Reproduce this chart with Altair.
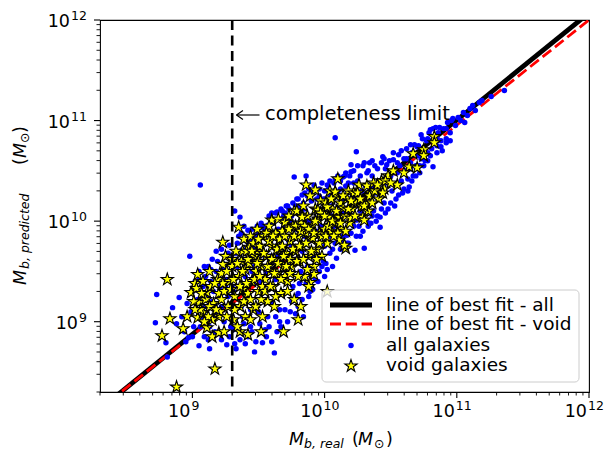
import altair as alt
import pandas as pd

# ---- data: (log10 M_real, log10 M_predicted) ----
all_galaxies_log = [
    (8.72, 8.99), (8.73, 9.27), (8.80, 8.79), (8.81, 8.65), (8.85, 9.14), (8.88, 8.98), (8.90, 9.24),
    (8.92, 9.05), (8.94, 8.90), (8.96, 9.18), (8.97, 8.84), (8.99, 9.10), (8.98, 9.65),
    (9.00, 9.30), (9.01, 8.95), (9.02, 9.40), (9.03, 9.12), (9.04, 9.22), (9.05, 8.76), (9.05, 9.50),
    (9.06, 10.36), (9.07, 9.05), (9.08, 9.35), (9.09, 8.85), (9.10, 9.45), (9.10, 9.15),
    (9.11, 9.25), (9.12, 9.55), (9.13, 8.73), (9.13, 8.95), (9.14, 9.40), (9.15, 9.62), (9.16, 9.30),
    (9.17, 9.05), (9.18, 9.70), (9.18, 9.50), (9.19, 8.88), (9.20, 9.10), (9.21, 9.35), (9.22, 9.72),
    (9.22, 9.15), (9.23, 9.58), (9.24, 9.00), (9.25, 9.66), (9.26, 8.77), (9.26, 9.42), (9.27, 9.25),
    (9.28, 9.76), (9.29, 8.95), (9.30, 9.60), (9.30, 9.35),
    (9.31, 9.30), (9.32, 10.10), (9.32, 8.78), (9.33, 8.73), (9.34, 9.55), (9.35, 9.85), (9.36, 10.04),
    (9.37, 9.15), (9.38, 9.72), (9.39, 8.98), (9.40, 9.45), (9.41, 9.80), (9.42, 9.91), (9.43, 9.25),
    (9.44, 9.62), (9.45, 8.90), (9.46, 9.80), (9.47, 8.70), (9.48, 9.40), (9.49, 9.95), (9.50, 9.10),
    (9.35, 9.35), (9.38, 9.05), (9.44, 9.12), (9.47, 9.55), (9.42, 8.85), (9.33, 9.68), (9.48, 9.85),
    (9.51, 9.70), (9.52, 9.98), (9.53, 8.79), (9.54, 9.30), (9.55, 9.92), (9.56, 9.50), (9.57, 9.05),
    (9.58, 10.05), (9.59, 9.65), (9.60, 9.20), (9.61, 9.88), (9.62, 8.69), (9.63, 9.42), (9.64, 10.09),
    (9.65, 9.75), (9.66, 9.00), (9.67, 10.12), (9.68, 9.58), (9.69, 9.30), (9.70, 9.95), (9.55, 8.92),
    (9.66, 9.12), (9.52, 9.40), (9.58, 9.78), (9.64, 8.90), (9.69, 10.05), (9.62, 9.60), (9.60, 10.08),
    (9.71, 9.45), (9.72, 10.15), (9.73, 9.80), (9.74, 9.10), (9.75, 10.05), (9.76, 9.60), (9.77, 10.44),
    (9.78, 9.25), (9.79, 9.92), (9.80, 10.22), (9.81, 9.38), (9.82, 10.10), (9.83, 9.70), (9.84, 9.05),
    (9.85, 10.28), (9.86, 10.45), (9.87, 9.55), (9.88, 10.00), (9.89, 9.30), (9.90, 10.20), (9.72, 9.95),
    (9.76, 9.35), (9.80, 9.15), (9.84, 10.18), (9.88, 9.80), (9.82, 9.50), (9.86, 9.95), (9.78, 10.15),
    (9.91, 9.65), (9.91, 9.32), (9.92, 10.30), (9.93, 9.85), (9.94, 10.10), (9.95, 9.40), (9.96, 10.25),
    (9.97, 9.95), (9.98, 9.55), (9.99, 10.22), (10.00, 9.75), (10.01, 10.05), (10.02, 9.52), (10.03, 10.32),
    (10.04, 9.85), (10.05, 10.15), (10.06, 9.55), (10.07, 9.95), (10.08, 10.83), (10.09, 9.63), (10.10, 10.28),
    (10.00, 9.45), (10.04, 10.26), (10.07, 10.38), (9.95, 10.02), (10.02, 9.90),
    (10.11, 10.00), (10.12, 10.40), (10.13, 9.80), (10.14, 10.20), (10.15, 9.90), (10.16, 10.35), (10.17, 9.86),
    (10.18, 10.10), (10.19, 10.45), (10.20, 10.49), (10.21, 10.25), (10.22, 9.95), (10.23, 9.71), (10.24, 10.01),
    (10.24, 10.69), (10.25, 10.40), (10.26, 10.15), (10.27, 9.85), (10.28, 10.30), (10.29, 10.55), (10.30, 9.73),
    (10.30, 10.05), (10.12, 10.15), (10.15, 10.45), (10.18, 9.78), (10.22, 10.38), (10.27, 10.10), (10.20, 10.56),
    (10.31, 10.35), (10.32, 10.00), (10.33, 10.50), (10.34, 10.20), (10.35, 9.98), (10.36, 10.45), (10.37, 10.10),
    (10.38, 10.55), (10.39, 10.28), (10.40, 10.05), (10.41, 10.40), (10.42, 9.94), (10.42, 10.04), (10.43, 10.58),
    (10.44, 10.30), (10.45, 10.18), (10.46, 10.52), (10.47, 10.38), (10.48, 10.12), (10.49, 10.60), (10.50, 10.45),
    (10.34, 10.58), (10.45, 10.62),
    (10.51, 10.30), (10.52, 10.61), (10.53, 10.48), (10.54, 10.22), (10.55, 10.36), (10.56, 10.66), (10.57, 10.55),
    (10.58, 10.40), (10.59, 10.28), (10.60, 10.62), (10.61, 10.50), (10.62, 10.72), (10.63, 10.42), (10.64, 10.34),
    (10.65, 10.58), (10.66, 10.68), (10.67, 10.45), (10.68, 10.76), (10.69, 10.55), (10.70, 10.65),
    (10.71, 10.75), (10.72, 10.55), (10.73, 10.62), (10.74, 10.82), (10.75, 10.70), (10.76, 10.60), (10.77, 10.80),
    (10.78, 10.68), (10.79, 10.88), (10.80, 10.91), (10.81, 10.72), (10.82, 10.54), (10.83, 10.82), (10.84, 10.93),
    (10.85, 10.75), (10.86, 10.88), (10.87, 10.93), (10.88, 10.80), (10.90, 10.92), (10.89, 10.70),
    (10.92, 10.78), (10.93, 10.98), (10.95, 10.88), (10.97, 11.02), (10.99, 10.95), (11.01, 11.03), (11.03, 11.00),
    (11.05, 11.08), (11.08, 11.05), (11.10, 11.12), (11.14, 11.10), (11.17, 11.18), (11.19, 11.20), (11.26, 11.24),
    (11.36, 11.30), (11.12, 11.15), (11.06, 10.98),
    # upper part of the band
    (9.05, 9.42), (9.09, 9.55), (9.14, 9.52), (9.19, 9.60), (9.24, 9.52), (9.27, 9.68), (9.34, 9.78),
    (9.37, 9.88), (9.39, 9.95), (9.43, 9.82), (9.45, 9.92), (9.47, 9.72), (9.50, 9.88), (9.53, 9.94),
    (9.54, 9.86), (9.57, 9.96), (9.59, 10.05), (9.61, 9.98), (9.63, 10.08), (9.65, 9.92), (9.67, 10.02),
    (9.68, 10.10), (9.70, 10.08), (9.71, 10.15), (9.73, 10.12), (9.74, 10.00), (9.76, 10.18), (9.77, 10.08),
    (9.79, 10.22), (9.81, 10.15), (9.83, 10.26), (9.85, 10.12), (9.87, 10.25), (9.88, 10.32), (9.90, 10.28),
    (9.92, 10.36), (9.94, 10.22), (9.96, 10.32), (9.98, 10.38), (10.00, 10.30), (10.02, 10.36), (10.04, 10.40),
    (10.06, 10.25), (10.08, 10.42), (10.10, 10.45), (10.12, 10.32), (10.14, 10.44), (10.16, 10.48), (10.18, 10.38),
    (10.22, 10.50), (10.25, 10.55), (10.27, 10.45), (10.30, 10.58), (10.32, 10.48), (10.36, 10.60), (10.40, 10.52),
    (10.44, 10.64), (10.47, 10.56), (10.52, 10.68), (10.55, 10.58), (10.58, 10.70), (10.62, 10.62), (10.65, 10.76),
    (10.70, 10.74), (10.73, 10.86), (10.78, 10.82), (10.82, 10.92), (10.85, 10.84), (10.92, 10.92), (10.96, 11.00),
    # lower part of the band
    (8.95, 8.80), (9.00, 8.85), (9.06, 8.95), (9.12, 8.82), (9.17, 8.90), (9.22, 8.82), (9.28, 8.85),
    (9.31, 8.92), (9.36, 8.82), (9.40, 8.78), (9.44, 8.95), (9.48, 8.80), (9.51, 8.98), (9.56, 8.85),
    (9.58, 8.95), (9.60, 8.80), (9.63, 9.05), (9.67, 8.95), (9.70, 9.12), (9.72, 9.00), (9.75, 9.20),
    (9.78, 9.08), (9.80, 9.28), (9.83, 9.22), (9.86, 9.38), (9.88, 9.25), (9.90, 9.45), (9.93, 9.42),
    (9.96, 9.50), (9.99, 9.60), (10.01, 9.58), (10.04, 9.68), (10.06, 9.72), (10.08, 9.78), (10.12, 9.72),
    (10.14, 9.85), (10.17, 9.78), (10.20, 9.88), (10.24, 9.85), (10.26, 9.95), (10.29, 9.90), (10.33, 9.95),
    (10.36, 10.05), (10.39, 10.00), (10.43, 10.12), (10.46, 10.08), (10.50, 10.18), (10.53, 10.15), (10.56, 10.26),
    (10.60, 10.32), (10.63, 10.30), (10.66, 10.40), (10.69, 10.45), (10.72, 10.48), (10.75, 10.55), (10.78, 10.60),
    (10.80, 10.65), (10.85, 10.68), (10.88, 10.74), (10.92, 10.82), (10.95, 10.80),
    # middle of the band
    (9.15, 9.20), (9.25, 9.35), (9.35, 9.60), (9.45, 9.50), (9.55, 9.65), (9.65, 9.65), (9.75, 9.75),
    (9.85, 9.85), (9.95, 9.90), (10.05, 10.05), (10.15, 10.10), (10.25, 10.25), (10.35, 10.35), (10.45, 10.40),
    (10.55, 10.48), (10.65, 10.52), (10.75, 10.66), (10.85, 10.80),
]

void_galaxies_log = [
    (8.81, 9.42), (8.83, 9.03), (8.77, 8.86), (8.88, 8.35), (9.17, 8.53), (9.23, 9.79), (9.35, 9.94),
    (8.93, 8.93), (8.96, 9.05), (8.99, 9.29), (9.02, 9.38), (9.04, 9.47), (9.13, 9.50), (9.23, 9.57),
    (9.05, 9.19), (9.11, 9.29), (9.04, 9.04), (9.11, 8.94), (9.15, 8.85), (9.20, 8.89), (9.24, 8.90),
    (9.20, 9.05), (9.15, 9.02), (9.08, 9.09), (9.36, 8.90), (9.42, 8.87), (9.52, 8.90), (9.69, 8.90),
    (9.80, 9.02), (9.82, 9.15), (9.89, 9.39), (9.92, 9.47), (10.02, 9.30), (10.11, 9.81), (10.16, 9.73),
    (9.86, 10.36), (9.93, 10.31), (10.10, 10.42), (10.08, 10.29), (9.77, 10.10), (9.60, 10.01), (9.83, 10.06),
    (9.72, 9.96), (9.58, 9.89), (9.38, 9.70), (9.43, 9.74), (9.49, 9.70),
    (9.01, 9.20), (9.03, 9.33), (9.06, 9.12), (9.08, 9.40), (9.10, 9.22), (9.12, 9.05), (9.14, 9.35),
    (9.16, 9.18), (9.19, 9.42), (9.20, 9.28),
    (9.21, 9.10), (9.22, 9.48), (9.24, 9.30), (9.25, 9.65), (9.27, 9.15), (9.28, 9.40), (9.30, 9.55),
    (9.31, 9.02), (9.32, 9.25), (9.33, 9.70), (9.35, 9.45), (9.36, 9.15), (9.37, 9.60), (9.38, 9.32),
    (9.39, 9.82), (9.40, 9.05), (9.40, 9.52), (9.23, 9.38), (9.30, 9.62), (9.34, 8.95),
    (9.41, 9.70), (9.42, 9.28), (9.43, 9.58), (9.44, 9.85), (9.45, 9.40), (9.46, 9.12), (9.47, 9.65),
    (9.48, 9.50), (9.49, 9.92), (9.50, 9.30), (9.51, 9.75), (9.52, 9.55), (9.53, 9.05), (9.54, 9.85),
    (9.55, 9.42), (9.56, 9.65), (9.57, 9.20), (9.58, 9.95), (9.59, 9.50), (9.60, 9.75), (9.44, 9.02),
    (9.50, 9.60), (9.46, 9.78), (9.56, 9.88), (9.53, 9.35),
    (9.61, 9.35), (9.62, 9.62), (9.63, 9.88), (9.64, 9.48), (9.65, 10.02), (9.66, 9.72), (9.67, 9.28),
    (9.68, 9.90), (9.69, 9.55), (9.70, 9.99), (9.71, 9.68), (9.72, 9.40), (9.73, 10.05), (9.74, 9.80),
    (9.75, 9.55), (9.76, 9.95), (9.77, 9.22), (9.78, 9.70), (9.79, 10.10), (9.80, 9.85), (9.62, 9.15),
    (9.66, 9.82), (9.70, 9.45), (9.74, 9.62), (9.78, 9.95),
    (9.81, 9.60), (9.82, 9.98), (9.83, 9.75), (9.84, 10.15), (9.85, 9.45), (9.86, 9.88), (9.87, 10.05),
    (9.88, 9.65), (9.89, 10.25), (9.90, 9.82), (9.91, 9.96), (9.92, 9.55), (9.93, 10.12), (9.94, 9.72),
    (9.95, 10.02), (9.96, 9.88), (9.97, 10.20), (9.98, 9.65), (9.99, 10.08), (10.00, 9.92), (9.83, 10.04),
    (9.91, 9.83), (9.95, 10.11), (9.88, 9.35),
    (10.01, 10.18), (10.02, 9.78), (10.03, 10.04), (10.04, 10.30), (10.05, 9.90), (10.06, 10.12), (10.08, 9.98),
    (10.09, 10.25), (10.10, 10.01), (10.11, 10.04), (10.12, 10.18), (10.13, 9.92), (10.14, 10.13), (10.15, 9.76),
    (10.16, 10.05), (10.17, 10.22), (10.18, 10.30), (10.19, 9.98), (10.20, 10.03), (10.21, 10.12), (10.02, 10.14),
    (10.10, 9.88), (10.08, 10.29),
    (10.22, 10.28), (10.24, 10.18), (10.26, 10.36), (10.28, 10.15), (10.29, 10.04), (10.30, 10.01), (10.32, 10.35),
    (10.32, 10.19), (10.33, 10.10), (10.35, 10.28), (10.37, 10.38), (10.39, 10.30), (10.41, 10.22), (10.43, 10.40),
    (10.45, 10.32), (10.48, 10.45), (10.52, 10.50), (10.55, 10.36),
    (10.64, 10.54), (10.67, 10.67), (10.70, 10.53), (10.75, 10.71), (10.75, 10.65), (10.83, 10.84), (10.83, 10.78),
    (10.60, 10.48),
    # more of the dense core
    (9.02, 9.12), (9.07, 9.28), (9.09, 9.00), (9.13, 9.15), (9.17, 9.38), (9.18, 9.12), (9.22, 9.22),
    (9.26, 9.05), (9.26, 9.50), (9.29, 9.32), (9.31, 9.42), (9.32, 9.12), (9.34, 9.58), (9.36, 9.35),
    (9.38, 9.50), (9.39, 9.20), (9.41, 9.38), (9.42, 9.62), (9.44, 9.22), (9.45, 9.70), (9.47, 9.42),
    (9.48, 9.15), (9.49, 9.58), (9.50, 9.82), (9.51, 9.45), (9.52, 9.22), (9.54, 9.68), (9.55, 9.30),
    (9.57, 9.55), (9.58, 9.80), (9.59, 9.35), (9.60, 9.62), (9.61, 9.85), (9.62, 9.48), (9.63, 9.25),
    (9.64, 9.72), (9.65, 9.58), (9.67, 9.42), (9.68, 9.75), (9.69, 9.65), (9.70, 9.85), (9.71, 9.55),
    (9.72, 9.30), (9.73, 9.92), (9.74, 9.48), (9.76, 9.72), (9.77, 9.85), (9.79, 9.60), (9.80, 9.45),
    (9.81, 9.75), (9.82, 9.90), (9.84, 9.62), (9.85, 9.95), (9.86, 9.78), (9.87, 9.52), (9.88, 9.92),
    (9.90, 9.70), (9.92, 9.88), (9.93, 10.00), (9.94, 9.62), (9.96, 9.78), (9.97, 10.08), (9.98, 9.85),
    (10.00, 10.05), (10.01, 9.85), (10.03, 9.95), (10.05, 10.22), (10.06, 10.00), (10.07, 9.85), (10.09, 10.10),
    (10.12, 9.98), (10.14, 10.25), (10.16, 9.90), (10.18, 10.12), (10.20, 10.20), (10.23, 10.05), (10.25, 10.28),
    (10.27, 10.22), (10.30, 10.15), (10.34, 10.25), (10.36, 10.18), (10.38, 10.30), (10.40, 10.36), (10.44, 10.28),
    (10.46, 10.40), (10.50, 10.38),
]

# lines of best fit (end points, log10)
fit_all_log = [(8.0, 7.81), (12.0, 12.07)]
fit_void_log = [(8.0, 7.82), (12.0, 12.0)]
completeness_limit = 2e9

axis_domain = [2e8, 1e12]
major_ticks = [1e9, 1e10, 1e11, 1e12]
major_exponents = ["9", "10", "11", "12"]
minor_ticks = [2e8, 3e8, 4e8, 5e8, 6e8, 7e8, 8e8, 9e8,
               2e9, 3e9, 4e9, 5e9, 6e9, 7e9, 8e9, 9e9,
               2e10, 3e10, 4e10, 5e10, 6e10, 7e10, 8e10, 9e10,
               2e11, 3e11, 4e11, 5e11, 6e11, 7e11, 8e11, 9e11]

legend_labels = ["line of best fit - all", "line of best fit - void", "all galaxies", "void galaxies"]

FONT = "DejaVu Sans"
W, H = 489, 372
# five-pointed star (matplotlib "*" marker) as a Vega custom symbol path
STAR = ("M0,-1L0.2245,-0.309L0.9511,-0.309L0.3633,0.118L0.5878,0.809L0,0.382"
        "L-0.5878,0.809L-0.3633,0.118L-0.9511,-0.309L-0.2245,-0.309Z")
STAR_SIZE = 165


def to_frame(pairs):
    return pd.DataFrame({"x": [10 ** a for a, b in pairs], "y": [10 ** b for a, b in pairs]})


xs = alt.Scale(type="log", domain=axis_domain, nice=False)
ys = alt.Scale(type="log", domain=axis_domain, nice=False)


def X(f="x"):
    return alt.X(f"{f}:Q", scale=xs, axis=None)


def Y(f="y"):
    return alt.Y(f"{f}:Q", scale=ys, axis=None)


one = pd.DataFrame({"k": [0]})

fit_all = alt.Chart(to_frame(fit_all_log)).mark_line(
    color="black", strokeWidth=4.8, clip=True).encode(x=X(), y=Y())
fit_void = alt.Chart(to_frame(fit_void_log)).mark_line(
    color="#ff0000", strokeWidth=2.8, strokeDash=[11, 4.8], clip=True).encode(x=X(), y=Y())
blue = alt.Chart(to_frame(all_galaxies_log)).mark_circle(
    color="#0000ff", size=30, opacity=1, clip=True).encode(x=X(), y=Y())
stars = alt.Chart(to_frame(void_galaxies_log)).mark_point(
    shape=STAR, filled=True, fill="#ffff00", stroke="#000000", strokeWidth=1.1,
    size=STAR_SIZE, opacity=1, clip=True).encode(x=X(), y=Y())
vline = alt.Chart(pd.DataFrame({"x": [completeness_limit]})).mark_rule(
    color="black", strokeWidth=2.6, strokeDash=[10, 5.5]).encode(x=X())

# ticks
df_major = pd.DataFrame({"v": major_ticks, "e": major_exponents})
df_minor = pd.DataFrame({"v": minor_ticks})
df_major1 = df_major[df_major["e"].str.len() == 1]
df_major2 = df_major[df_major["e"].str.len() == 2]

xt_major = alt.Chart(df_major).mark_rule(color="black", strokeWidth=1.1).encode(
    x=X("v"), y=alt.value(H), y2=alt.value(H + 6))
xt_minor = alt.Chart(df_minor).mark_rule(color="black", strokeWidth=0.9).encode(
    x=X("v"), y=alt.value(H), y2=alt.value(H + 3.5))
yt_major = alt.Chart(df_major).mark_rule(color="black", strokeWidth=1.1).encode(
    y=Y("v"), x=alt.value(0), x2=alt.value(-6))
yt_minor = alt.Chart(df_minor).mark_rule(color="black", strokeWidth=0.9).encode(
    y=Y("v"), x=alt.value(0), x2=alt.value(-3.5))

BASE_FS, EXP_FS = 17.5, 12.5
xl_base = alt.Chart(df_major).mark_text(
    font=FONT, fontSize=BASE_FS, align="right", baseline="alphabetic", dx=-2, color="black").encode(
    x=X("v"), y=alt.value(H + 25), text=alt.value("10"))
xl_exp = alt.Chart(df_major).mark_text(
    font=FONT, fontSize=EXP_FS, align="left", baseline="alphabetic", dx=-1, color="black").encode(
    x=X("v"), y=alt.value(H + 18), text="e:N")
yl_exp = alt.Chart(df_major).mark_text(
    font=FONT, fontSize=EXP_FS, align="right", baseline="alphabetic", color="black").encode(
    y=Y("v"), x=alt.value(-13), text="e:N")
yl_base1 = alt.Chart(df_major1).mark_text(
    font=FONT, fontSize=BASE_FS, align="right", baseline="alphabetic", dy=7, color="black").encode(
    y=Y("v"), x=alt.value(-22), text=alt.value("10"))
yl_base2 = alt.Chart(df_major2).mark_text(
    font=FONT, fontSize=BASE_FS, align="right", baseline="alphabetic", dy=7, color="black").encode(
    y=Y("v"), x=alt.value(-30), text=alt.value("10"))


def txt(s, x, y, fs, italic=False, angle=0, align="left", baseline="alphabetic"):
    kw = dict(font=FONT, fontSize=fs, align=align, baseline=baseline, color="black")
    if italic:
        kw["fontStyle"] = "italic"
    if angle:
        kw["angle"] = angle
    return alt.Chart(one).mark_text(**kw).encode(
        x=alt.value(x), y=alt.value(y), text=alt.value(s))


TFS, SFS = 17.5, 12.5
x_title = [
    txt("M", 189, 425, TFS, italic=True),
    txt("b, real", 204, 428, SFS, italic=True),
    txt("(", 252, 425, TFS),
    txt("M", 258, 425, TFS, italic=True),
    txt("\u2299", 274, 428, SFS),
    txt(")", 286, 425, TFS),
]
y_title = [
    txt("M", -74, 265, TFS, italic=True, angle=270),
    txt("b, predicted", -71, 249, SFS, italic=True, angle=270),
    txt("(", -74, 145, TFS, angle=270),
    txt("M", -74, 138, TFS, italic=True, angle=270),
    txt("\u2299", -71, 123, SFS, angle=270),
    txt(")", -74, 113, TFS, angle=270),
]


def seg(x1, y1, x2, y2, w=1.2, color="black", dash=None):
    kw = dict(color=color, strokeWidth=w)
    if dash:
        kw["strokeDash"] = dash
    return alt.Chart(one).mark_rule(**kw).encode(
        x=alt.value(x1), y=alt.value(y1), x2=alt.value(x2), y2=alt.value(y2))


# annotation "<- completeness limit"
annot = [
    seg(136.5, 95, 159.5, 95),
    seg(136.5, 95, 143, 90.5),
    seg(136.5, 95, 143, 99.5),
    txt("completeness limit", 165, 100, 19.5),
]

# legend
LFS = 18.5
legend = [
    alt.Chart(one).mark_rect(fill="white", fillOpacity=0.8, stroke="#cccccc", strokeWidth=1,
                             cornerRadius=4).encode(
        x=alt.value(222), x2=alt.value(479), y=alt.value(270), y2=alt.value(362)),
    seg(230, 285, 272, 285, w=4.8),
    seg(230, 304, 272, 304, w=2.8, color="#ff0000", dash=[11, 4.8]),
    alt.Chart(one).mark_circle(color="#0000ff", size=30, opacity=1).encode(
        x=alt.value(251), y=alt.value(325.5)),
    alt.Chart(one).mark_point(shape=STAR, filled=True, fill="#ffff00", stroke="#000000",
                              strokeWidth=1.1, size=STAR_SIZE, opacity=1).encode(
        x=alt.value(251), y=alt.value(346)),
    txt(legend_labels[0], 286, 285, LFS, baseline="middle"),
    txt(legend_labels[1], 286, 304, LFS, baseline="middle"),
    txt(legend_labels[2], 286, 325, LFS, baseline="middle"),
    txt(legend_labels[3], 286, 345, LFS, baseline="middle"),
]

layers = [fit_all, fit_void, blue, stars, vline,
          xt_major, xt_minor, yt_major, yt_minor,
          xl_base, xl_exp, yl_exp, yl_base1, yl_base2] + x_title + y_title + annot + legend

chart = alt.layer(*layers).properties(
    width=W, height=H,
    padding={"left": 100, "top": 20, "right": 23, "bottom": 60},
    autosize=alt.AutoSizeParams(type="none"),
).configure(font=FONT).configure_view(stroke="#000000", strokeWidth=1.1)

chart.save("out.html", embed_options={"renderer": "svg", "actions": False})
